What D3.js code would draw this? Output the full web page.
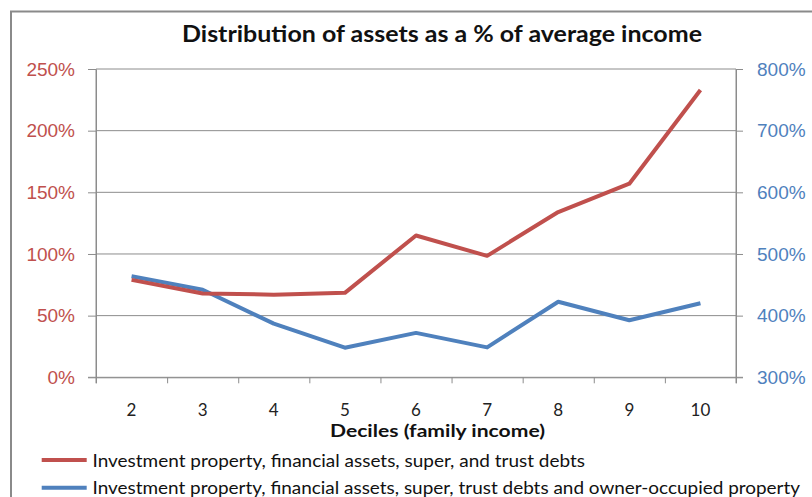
<!DOCTYPE html>
<html><head><meta charset="utf-8">
<script src="https://cdn.jsdelivr.net/npm/d3@7"></script>
<style>body{margin:0;background:#fff;} svg{display:block;font-family:Lato,"Open Sans",sans-serif;}</style>
</head><body>
<svg id="c" width="812" height="497"></svg>
<script>
const deciles = ["2","3","4","5","6","7","8","9","10"];
const seriesNames = ["Investment property, financial assets, super, and trust debts",
                     "Investment property, financial assets, super, trust debts and owner-occupied property"];
const redValues  = [0.79, 0.68, 0.67, 0.685, 1.15, 0.985, 1.34, 1.57, 2.33];
const blueValues = [4.64, 4.42, 3.87, 3.48, 3.72, 3.485, 4.225, 3.925, 4.20];
const leftTicks  = [0, 0.5, 1, 1.5, 2, 2.5];
const rightTicks = [3, 4, 5, 6, 7, 8];
const titleText = "Distribution of assets as a % of average income";
const xTitleText = "Deciles (family income)";

const RED = "#C0504D", BLUE = "#4F81BD", GRID = "#8c8c8c";
const svg = d3.select("#c");
const L = 96, R = 736, T = 69, B = 377.3;

const x = d3.scaleBand().domain(deciles).range([L, R]).padding(0);
const xb = d3.scaleLinear().domain([0, deciles.length]).range([L, R]);
const yL = d3.scaleLinear().domain([0, 2.5]).range([B, T]);
const yR = d3.scaleLinear().domain([3, 8]).range([B, T]);
const pct = d3.format(".0%");

// outer border
svg.append("rect").attr("x", 11).attr("y", 11.5).attr("width", 830).attr("height", 520)
  .attr("fill", "none").attr("stroke", "#8a8a8a").attr("stroke-width", 2);

// gridlines
svg.append("g").selectAll("line").data(leftTicks.filter(d => d > 0)).join("line")
  .attr("x1", L).attr("x2", R).attr("y1", d => yL(d)).attr("y2", d => yL(d))
  .attr("stroke", GRID).attr("stroke-width", 1);

// left axis
const gl = svg.append("g").attr("transform", `translate(${L},0)`)
  .call(d3.axisLeft(yL).tickValues(leftTicks).tickFormat(pct).tickSize(8).tickPadding(13).tickSizeOuter(0));
gl.selectAll("text").attr("fill", RED).style("font-size", "19px");
// right axis
const gr = svg.append("g").attr("transform", `translate(${R},0)`)
  .call(d3.axisRight(yR).tickValues(rightTicks).tickFormat(d => Math.round(d * 100) + "%").tickSize(7).tickPadding(14).tickSizeOuter(0));
gr.selectAll("text").attr("fill", BLUE).style("font-size", "19px");
// bottom axis (boundary ticks)
const gb = svg.append("g").attr("transform", `translate(0,${B})`)
  .call(d3.axisBottom(xb).tickValues(d3.range(0, deciles.length + 1)).tickFormat("").tickSize(6).tickSizeOuter(0));
[gl, gr, gb].forEach(g => {
  g.selectAll("line").attr("stroke", GRID);
  g.select(".domain").attr("stroke", GRID);
});
svg.append("line").attr("x1", L - 8).attr("x2", R + 7).attr("y1", B).attr("y2", B).attr("stroke", GRID);
svg.append("line").attr("x1", L).attr("x2", L).attr("y1", T).attr("y2", B + 6).attr("stroke", GRID);
svg.append("line").attr("x1", R).attr("x2", R).attr("y1", T).attr("y2", B + 6).attr("stroke", GRID);

// category labels
svg.append("g").selectAll("text").data(deciles).join("text")
  .attr("x", d => x(d) + x.bandwidth() / 2).attr("y", 416)
  .attr("text-anchor", "middle").attr("fill", "#222").style("font-size", "17px").text(d => d);

// lines
const lineR = d3.line().x((d, i) => x(deciles[i]) + x.bandwidth() / 2).y(d => yL(d));
const lineB = d3.line().x((d, i) => x(deciles[i]) + x.bandwidth() / 2).y(d => yR(d));
svg.append("path").datum(blueValues).attr("d", lineB).attr("fill", "none")
  .attr("stroke", BLUE).attr("stroke-width", 4).attr("stroke-linejoin", "round");
svg.append("path").datum(redValues).attr("d", lineR).attr("fill", "none")
  .attr("stroke", RED).attr("stroke-width", 4).attr("stroke-linejoin", "round");

// title
svg.append("text").attr("x", 182).attr("y", 42.3).attr("textLength", 520).attr("lengthAdjust", "spacingAndGlyphs")
  .style("font-size", "22px").style("font-weight", "bold").attr("fill", "#111").text(titleText);
// x axis title
svg.append("text").attr("x", 330).attr("y", 437).attr("textLength", 215).attr("lengthAdjust", "spacingAndGlyphs")
  .style("font-size", "16.5px").style("font-weight", "bold").attr("fill", "#111").text(xTitleText);

// legend
const legY = [460, 487.7], legEnd = [585, 800];
const leg = svg.append("g").selectAll("g").data(seriesNames).join("g");
leg.append("line").attr("x1", 41.7).attr("x2", 86.7).attr("y1", (d, i) => legY[i]).attr("y2", (d, i) => legY[i])
  .attr("stroke", (d, i) => i === 0 ? RED : BLUE).attr("stroke-width", 4);
leg.append("text").attr("x", 92.5).attr("y", (d, i) => legY[i] + 6.7)
  .attr("textLength", (d, i) => legEnd[i] - 92.5).attr("lengthAdjust", "spacingAndGlyphs")
  .style("font-size", "18px").attr("fill", "#111").text(d => d);
</script>
</body></html>
